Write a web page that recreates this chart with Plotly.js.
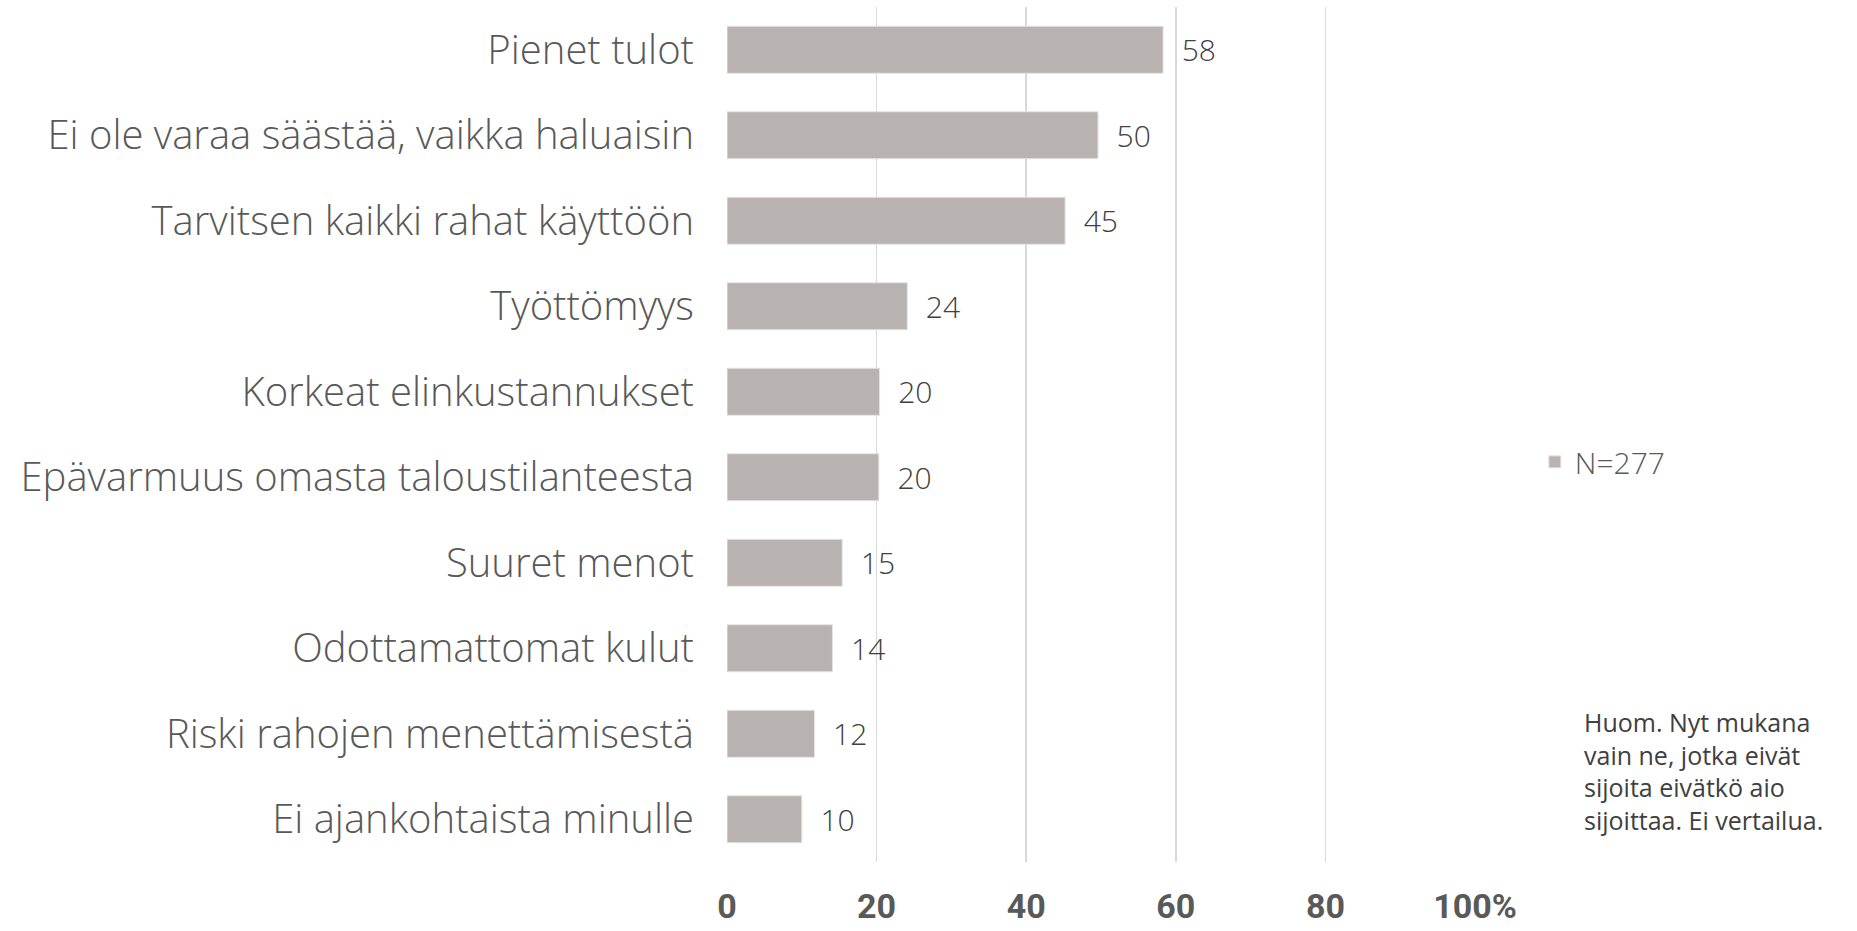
<!DOCTYPE html>
<html>
<head>
<meta charset="utf-8">
<script src="https://cdn.plot.ly/plotly-3.0.1.min.js"></script>
<style>
  html, body { margin: 0; padding: 0; background: #fff; }
  #chart { width: 1857px; height: 931px; }
</style>
</head>
<body>
<div id="chart"></div>
<script>
// top-to-bottom order as in the picture
const reasons = [
    'Pienet tulot',
    'Ei ole varaa säästää, vaikka haluaisin',
    'Tarvitsen kaikki rahat käyttöön',
    'Työttömyys',
    'Korkeat elinkustannukset',
    'Epävarmuus omasta taloustilanteesta',
    'Suuret menot',
    'Odottamattomat kulut',
    'Riski rahojen menettämisestä',
    'Ei ajankohtaista minulle'
];
const shares = [58.3, 49.6, 45.2, 24.1, 20.4, 20.3, 15.4, 14.1, 11.7, 10.0];
const seriesName = 'N=277';
const tickValues = [0, 20, 40, 60, 80, 100];
const tickLabels = ['0', '20', '40', '60', '80', '100%'];
const note = 'Huom. Nyt mukana<br>vain ne, jotka eivät<br>sijoita eivätkö aio<br>sijoittaa. Ei vertailua.';

const grey = '#595959';

let trace = {
    type: 'bar',
    orientation: 'h',
    y: reasons,
    x: shares,
    name: seriesName,
    marker: { color: '#b8b3b0', line: { color: '#e6e3e1', width: 1 } },
    text: shares.map(v => '\u00a0\u00a0' + Math.round(v)),
    textposition: 'outside',
    cliponaxis: false,
    textfont: { family: 'Open Sans', size: 30, color: '#404040', weight: 300 },
    hoverinfo: 'skip'
};

let layout = {
    width: 1857,
    height: 931,
    margin: { l: 727, r: 382, t: 7, b: 69 },
    paper_bgcolor: '#ffffff',
    plot_bgcolor: '#ffffff',
    bargap: 0.45,
    showlegend: true,
    legend: {
        x: 1.08, y: 0.468, xanchor: 'left', yanchor: 'middle',
        font: { family: 'Open Sans', size: 30, color: grey, weight: 300 },
        itemwidth: 30
    },
    xaxis: {
        range: [0, 100],
        tickvals: tickValues,
        ticktext: tickLabels,
        showgrid: true,
        gridcolor: '#d9d9d9',
        gridwidth: 1.5,
        zeroline: false,
        showline: false,
        ticks: '',
        ticklabelstandoff: 21,
        tickfont: { family: 'Roboto', size: 34, color: grey, weight: 'bold' },
        fixedrange: true
    },
    yaxis: {
        autorange: 'reversed',
        showgrid: false,
        zeroline: false,
        showline: false,
        ticks: '',
        ticklabelstandoff: 32,
        tickfont: { family: 'Open Sans', size: 40, color: grey, weight: 300 },
        fixedrange: true
    },
    annotations: [{
        xref: 'paper', yref: 'paper',
        x: 1.143, y: 0.186,
        xanchor: 'left', yanchor: 'top',
        align: 'left',
        showarrow: false,
        text: note,
        font: { family: 'Open Sans', size: 25, color: '#404040' }
    }]
};

Plotly.newPlot('chart', [trace], layout, { staticPlot: true, displayModeBar: false });
</script>
</body>
</html>
